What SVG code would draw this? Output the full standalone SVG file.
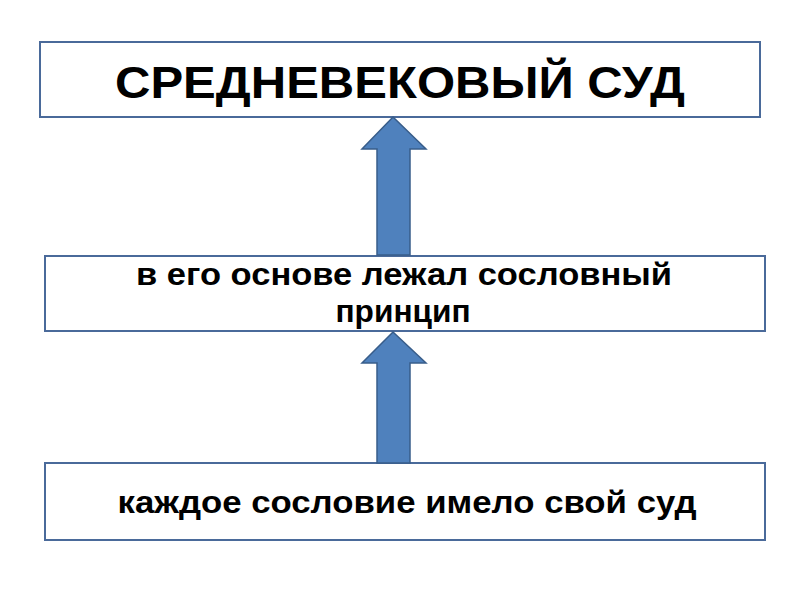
<svg xmlns="http://www.w3.org/2000/svg" width="800" height="600" viewBox="0 0 800 600">
<style>
.box{fill:#fff;stroke:#4a6a9a;stroke-width:2}
.arr{fill:#4f81bd;stroke:#385d8a;stroke-width:1.5}
.t{font-family:"Liberation Sans",Arial,sans-serif;font-weight:bold;fill:#000;text-anchor:middle}
</style>
<rect width="800" height="600" fill="#fff"/>
<g id="n1"><rect class="box" x="40" y="42" width="720" height="75"/>
<text class="t" x="400" y="98" font-size="44" textLength="570" lengthAdjust="spacingAndGlyphs">СРЕДНЕВЕКОВЫЙ СУД</text></g>
<g id="n2"><rect class="box" x="45" y="256" width="720" height="75"/></g>
<g id="n3"><rect class="box" x="45" y="463" width="720" height="77"/>
<text class="t" x="407" y="513" font-size="32" textLength="579" lengthAdjust="spacingAndGlyphs">каждое сословие имело свой суд</text></g>
<g id="connectors">
<path class="arr" d="M393,117 L426,149 L410,149 L410,255 L377,255 L377,149 L362,149 Z"/>
<path class="arr" d="M393,332 L426,363 L410,363 L410,463 L377,463 L377,363 L362,363 Z"/>
</g>
<g id="n2text">
<text class="t" x="404" y="285" font-size="31" textLength="536" lengthAdjust="spacingAndGlyphs">в его основе лежал сословный</text>
<text class="t" x="403" y="322" font-size="31" textLength="135" lengthAdjust="spacingAndGlyphs">принцип</text>
</g>
</svg>
